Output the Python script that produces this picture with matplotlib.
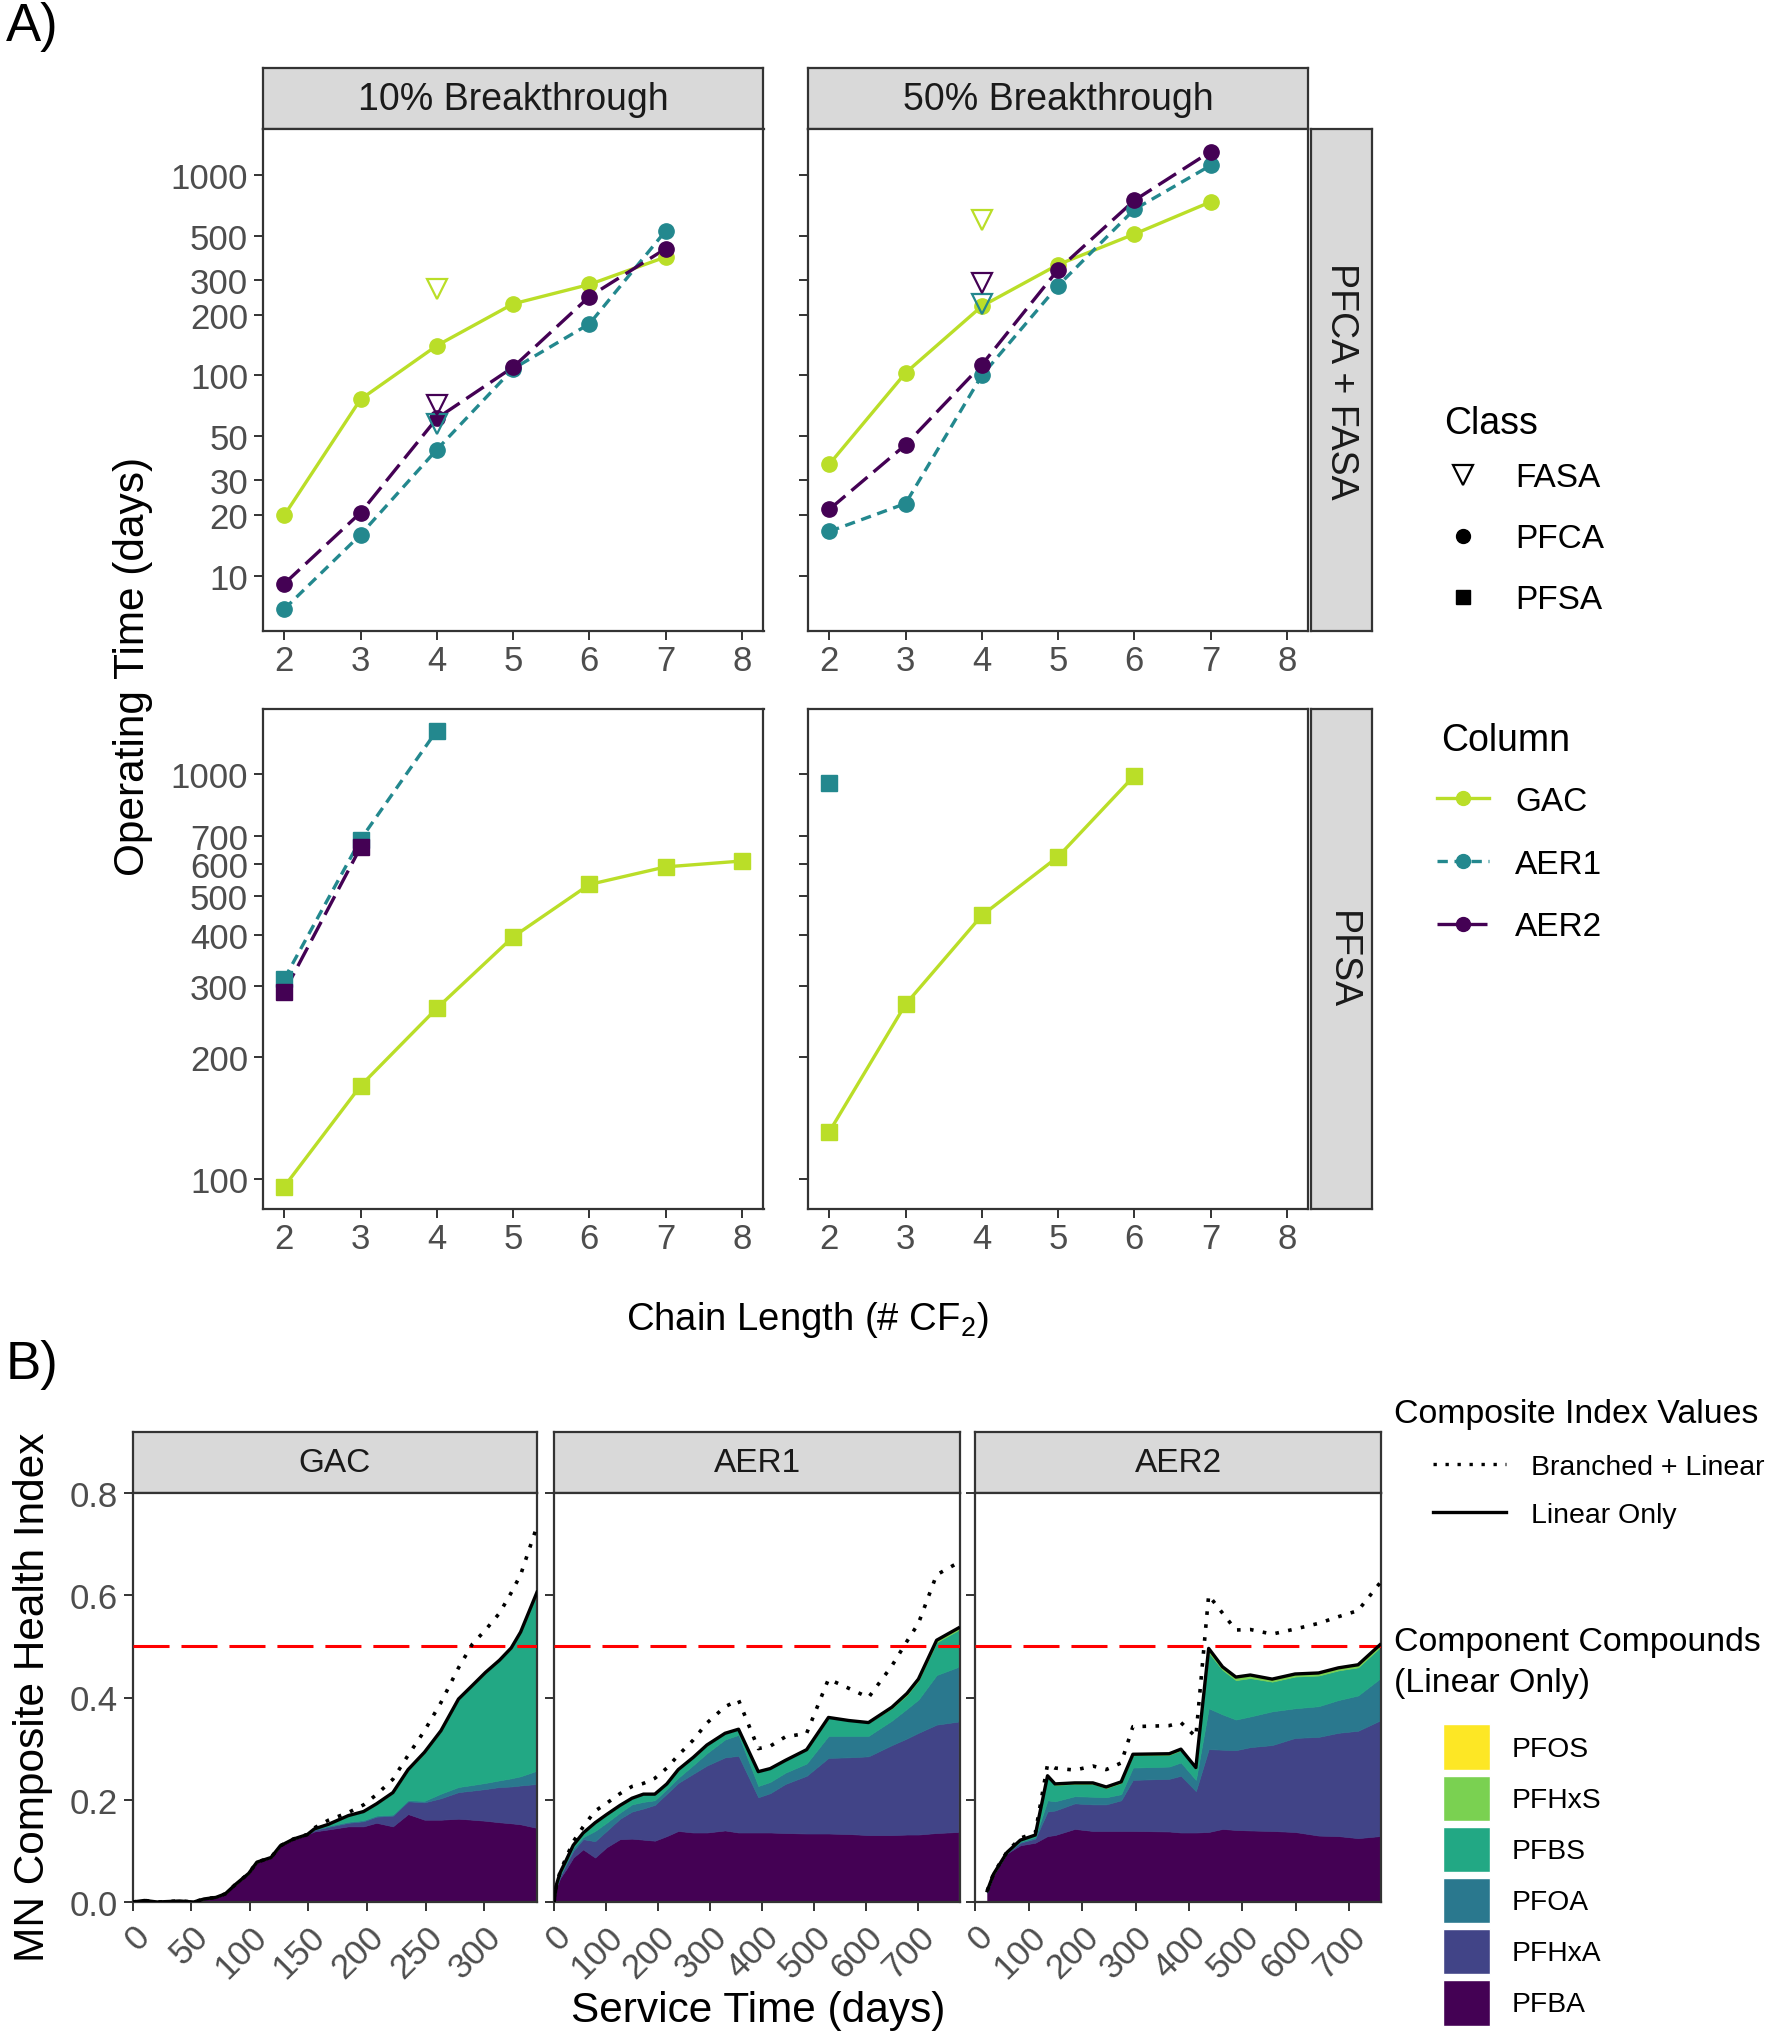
import matplotlib
matplotlib.use("Agg")
import matplotlib.pyplot as plt
from matplotlib.lines import Line2D
from matplotlib.patches import Patch
from matplotlib.ticker import FixedLocator, NullLocator

plt.rcParams["font.family"] = ["Liberation Sans", "DejaVu Sans"]
plt.rcParams["mathtext.fontset"] = "custom"
plt.rcParams["mathtext.rm"] = "Liberation Sans"

W, H = 1774, 2040

# ---------------- panel A data (operating time, days) ----------------
chain = [2, 3, 4, 5, 6, 7, 8]

# PFCA (circles), chain length 2..7
gac_pfca_10 = [20, 76, 141, 228, 285, 391]
aer1_pfca_10 = [6.8, 16, 42.6, 108, 181, 528]
aer2_pfca_10 = [9.1, 20.6, 61, 110, 248, 430]
gac_pfca_50 = [36, 103, 222, 358, 509, 737]
aer1_pfca_50 = [16.6, 22.9, 100, 281, 676, 1121]
aer2_pfca_50 = [21.4, 45, 113, 338, 750, 1315]

# FASA (open triangles) at chain length 4: GAC, AER1, AER2
fasa_chain = 4
fasa_10 = [269, 57, 71]
fasa_50 = [597, 227, 290]

# PFSA (squares), starting at chain length 2
gac_pfsa_10 = [96, 170, 264, 396, 533, 589, 609]
aer1_pfsa_10 = [312, 688, 1277]
aer2_pfsa_10 = [290, 658]
gac_pfsa_50 = [131, 270, 447, 624, 988]
aer1_pfsa_50 = [947]
aer2_pfsa_50 = []

top_ticks = [10, 20, 30, 50, 100, 200, 300, 500, 1000]
bot_ticks = [100, 200, 300, 400, 500, 600, 700, 1000]

# ---------------- panel B data (MN composite health index) ----------------
gac_days = [0, 10, 21, 40, 52, 61, 71, 79, 88, 99, 106, 118, 126, 137, 149,
            155, 167, 184, 197, 208, 222, 235, 249, 263, 278, 290, 301, 313, 323, 331, 345]
gac_pfba = [0, 0.003, 0, 0.002, 0, 0.006, 0.009, 0.016, 0.035, 0.056, 0.078, 0.087, 0.110, 0.123, 0.132,
            0.138, 0.142, 0.148, 0.148, 0.155, 0.148, 0.172, 0.161, 0.161, 0.163, 0.161, 0.159, 0.156, 0.154, 0.152, 0.145]
gac_pfhxa = [0] * 15 + [0.003, 0.005, 0.007, 0.010, 0.012, 0.021, 0.025, 0.034, 0.042, 0.052, 0.057, 0.062, 0.069, 0.072, 0.076, 0.086]
gac_pfoa = [0] * 15 + [0.001, 0.002, 0.002, 0.002, 0.002, 0.002, 0.002, 0.003, 0.009, 0.010, 0.011, 0.012, 0.013, 0.016, 0.018, 0.026]
gac_pfbs = [0] * 15 + [0.001, 0.003, 0.012, 0.017, 0.023, 0.043, 0.060, 0.095, 0.123, 0.172, 0.195, 0.216, 0.235, 0.255, 0.282, 0.349]
gac_pfhxs = [0] * 31
gac_pfos = [0] * 31
gac_branched = [0, 0.003, 0, 0.002, 0, 0.006, 0.009, 0.016, 0.035, 0.056, 0.078, 0.087, 0.110, 0.123, 0.132,
                0.145, 0.160, 0.175, 0.190, 0.210, 0.240, 0.287, 0.335, 0.390, 0.458, 0.505, 0.532, 0.565, 0.605, 0.640, 0.735]

aer1_days = [0, 5, 12, 24, 37, 56, 79, 101, 127, 150, 172, 194, 217, 239, 268,
             294, 329, 355, 393, 416, 445, 486, 528, 567, 605, 650, 679, 701, 736, 778]
aer1_pfba = [0, 0.030, 0.047, 0.065, 0.087, 0.103, 0.087, 0.107, 0.123, 0.124, 0.122, 0.120, 0.129, 0.139, 0.136,
             0.136, 0.140, 0.136, 0.136, 0.136, 0.135, 0.134, 0.134, 0.133, 0.131, 0.131, 0.132, 0.132, 0.135, 0.137]
aer1_pfhxa = [0, 0.002, 0.004, 0.010, 0.013, 0.020, 0.032, 0.032, 0.040, 0.053, 0.061, 0.070, 0.083, 0.094, 0.115,
              0.131, 0.143, 0.150, 0.069, 0.077, 0.096, 0.113, 0.148, 0.150, 0.154, 0.176, 0.188, 0.199, 0.212, 0.216]
aer1_pfoa = [0, 0.001, 0.002, 0.003, 0.006, 0.004, 0.020, 0.016, 0.012, 0.014, 0.013, 0.009, 0.009, 0.010, 0.017,
             0.024, 0.035, 0.041, 0.022, 0.022, 0.022, 0.024, 0.043, 0.042, 0.040, 0.048, 0.058, 0.065, 0.097, 0.107]
aer1_pfbs = [0, 0.002, 0.005, 0.005, 0.005, 0.008, 0.016, 0.016, 0.014, 0.012, 0.015, 0.012, 0.010, 0.016, 0.015,
             0.016, 0.012, 0.011, 0.028, 0.026, 0.024, 0.027, 0.036, 0.030, 0.026, 0.024, 0.027, 0.037, 0.064, 0.072]
aer1_pfhxs = [0] * 25 + [0.002, 0.003, 0.003, 0.004, 0.004]
aer1_pfos = [0] * 30
aer1_branched = [0, 0.035, 0.060, 0.088, 0.118, 0.147, 0.178, 0.193, 0.212, 0.226, 0.232, 0.242, 0.262, 0.287, 0.317,
                 0.350, 0.382, 0.395, 0.300, 0.305, 0.323, 0.330, 0.436, 0.418, 0.400, 0.462, 0.510, 0.545, 0.640, 0.664]

aer2_days = [22, 34, 59, 84, 112, 135, 149, 186, 220, 245, 273, 295, 363, 385, 413,
             437, 463, 488, 515, 556, 599, 643, 680, 717, 758]
aer2_pfba = [0.018, 0.053, 0.095, 0.111, 0.116, 0.129, 0.131, 0.143, 0.139, 0.139, 0.139, 0.139, 0.138, 0.136, 0.136,
             0.137, 0.143, 0.141, 0.140, 0.139, 0.137, 0.130, 0.129, 0.125, 0.129]
aer2_pfhxa = [0.002, 0.001, 0.001, 0.005, 0.008, 0.048, 0.048, 0.050, 0.052, 0.052, 0.060, 0.100, 0.103, 0.111, 0.081,
              0.162, 0.155, 0.156, 0.163, 0.168, 0.184, 0.193, 0.202, 0.210, 0.226]
aer2_pfoa = [0.001, 0, 0, 0.002, 0.003, 0.022, 0.018, 0.014, 0.015, 0.014, 0.012, 0.024, 0.024, 0.026, 0.022,
             0.080, 0.069, 0.060, 0.060, 0.066, 0.058, 0.060, 0.064, 0.069, 0.082]
aer2_pfbs = [0.001, 0.001, 0.001, 0.003, 0.004, 0.046, 0.032, 0.024, 0.025, 0.018, 0.022, 0.024, 0.023, 0.024, 0.022,
             0.109, 0.087, 0.077, 0.075, 0.058, 0.062, 0.060, 0.058, 0.055, 0.061]
aer2_pfhxs = [0, 0, 0, 0, 0, 0.002, 0.002, 0.002, 0.002, 0.002, 0.002, 0.002, 0.002, 0.002, 0.002,
              0.008, 0.006, 0.006, 0.006, 0.005, 0.005, 0.005, 0.005, 0.005, 0.005]
aer2_pfos = [0] * 25
aer2_branched = [0.022, 0.056, 0.098, 0.125, 0.135, 0.269, 0.262, 0.258, 0.266, 0.259, 0.272, 0.343, 0.345, 0.351, 0.323,
                 0.600, 0.565, 0.532, 0.533, 0.524, 0.534, 0.545, 0.558, 0.570, 0.624]

# ---------------- styles ----------------
GREY = "#333333"
TICKTXT = "#4D4D4D"
col_names = ["GAC", "AER1", "AER2"]
col_colors = ["#BADE28", "#23888E", "#440154"]
col_ls = ["-", (0, (3.1, 2.0)), (0, (6.3, 2.4))]
cmp_names = ["PFBA", "PFHxA", "PFOA", "PFBS", "PFHxS", "PFOS"]
cmp_colors = ["#440154", "#414487", "#2A788E", "#22A884", "#7AD151", "#FDE725"]

fig = plt.figure(figsize=(W / 100, H / 100), dpi=100)


def px_axes(l, t, r, b):
    return fig.add_axes([l / W, 1 - b / H, (r - l) / W, (b - t) / H])


def frame(ax, size):
    for s in ax.spines.values():
        s.set_color(GREY)
        s.set_linewidth(1.6)
    ax.tick_params(direction="out", length=6.5, width=1.4, color=GREY,
                   labelcolor=TICKTXT, labelsize=size, pad=4)


def strip(l, t, r, b, label, size, rotation=0):
    ax = px_axes(l, t, r, b)
    ax.set_facecolor("#D9D9D9")
    ax.set_xticks([])
    ax.set_yticks([])
    for s in ax.spines.values():
        s.set_color(GREY)
        s.set_linewidth(1.6)
    ax.text(0.5, 0.5, label, transform=ax.transAxes, ha="center", va="center",
            rotation=rotation, fontsize=size, color="#1A1A1A")
    return ax


# ---------------- panel A ----------------
xcols = [(262.7, 763.5), (807.7, 1308.4)]
rows = [(130, 632), (710, 1209.6)]
pfca_sets = [[gac_pfca_10, aer1_pfca_10, aer2_pfca_10], [gac_pfca_50, aer1_pfca_50, aer2_pfca_50]]
fasa_sets = [fasa_10, fasa_50]
pfsa_sets = [[gac_pfsa_10, aer1_pfsa_10, aer2_pfsa_10], [gac_pfsa_50, aer1_pfsa_50, aer2_pfsa_50]]

for ci, (l, r) in enumerate(xcols):
    strip(l, 69, r, 130, ["10% Breakthrough", "50% Breakthrough"][ci], 27)
    for ri, (t, b) in enumerate(rows):
        ax = px_axes(l, t, r, b)
        frame(ax, 25)
        ax.tick_params(axis="x", pad=3)
        ax.set_yscale("log")
        if ri == 0:
            series = pfca_sets[ci]
            mk = "o"
            ax.set_ylim(5.28, 1706)
            ticks = top_ticks
        else:
            series = pfsa_sets[ci]
            mk = "s"
            ax.set_ylim(84.7, 1443)
            ticks = bot_ticks
        for k, vals in enumerate(series):
            xs = chain[:len(vals)]
            ax.plot(xs, vals, color=col_colors[k], lw=2.4, ls=col_ls[k], zorder=2)
        for k, vals in enumerate(series):
            xs = chain[:len(vals)]
            ax.plot(xs, vals, ls="none", marker=mk, ms=11, color=col_colors[k], zorder=3)
        if ri == 0:
            for k, v in enumerate(fasa_sets[ci]):
                ax.plot([fasa_chain], [v], ls="none", marker="v", ms=15, mfc="none",
                        mec=col_colors[k], mew=1.6, zorder=3)
        ax.set_xlim(1.717, 8.283)
        ax.xaxis.set_major_locator(FixedLocator(chain))
        ax.yaxis.set_major_locator(FixedLocator(ticks))
        ax.yaxis.set_minor_locator(NullLocator())
        if ci == 0:
            ax.set_yticklabels([str(v) for v in ticks])
        else:
            ax.set_yticklabels([])
        ax.set_xticklabels([str(v) for v in chain])

strip(1311, 130, 1372, 632, "PFCA + FASA", 27, rotation=-90)
strip(1311, 710, 1372, 1209.6, "PFSA", 27, rotation=-90)

fig.text(6 / W, 1 - 2 / H, "A)", fontsize=38, ha="left", va="top")
fig.text(133 / W, 1 - 666 / H, "Operating Time (days)", fontsize=30.5, rotation=90,
         ha="center", va="center")
fig.text(807 / W, 1 - 1320 / H, "Chain Length (# CF$_2$)", fontsize=27.5,
         ha="center", va="center")

# legends for panel A
fig.text(1444 / W, 1 - 424 / H, "Class", fontsize=27, ha="left", va="center")
class_handles = [
    Line2D([], [], ls="none", marker="v", mfc="none", mec="black", ms=14, mew=1.6),
    Line2D([], [], ls="none", marker="o", color="black", ms=10),
    Line2D([], [], ls="none", marker="s", color="black", ms=9.5),
]
fig.legend(class_handles, ["FASA", "PFCA", "PFSA"], loc="center left",
           bbox_to_anchor=(1444 / W, 1 - 540 / H), frameon=False, fontsize=24,
           handlelength=1.15, handletextpad=1.0, labelspacing=0.9,
           borderpad=0, borderaxespad=0)

fig.text(1441 / W, 1 - 741 / H, "Column", fontsize=27, ha="left", va="center")
col_handles = [Line2D([], [], color=c, lw=2.4, ls=s, marker="o", ms=10)
               for c, s in zip(col_colors, col_ls)]
fig.legend(col_handles, col_names, loc="center left",
           bbox_to_anchor=(1437 / W, 1 - 865 / H), frameon=False, fontsize=24,
           handlelength=1.56, handletextpad=0.78, labelspacing=0.95,
           borderpad=0, borderaxespad=0)

# ---------------- panel B ----------------
b_cols = [(132.7, 537), (554, 960), (975.5, 1381)]
b_days = [gac_days, aer1_days, aer2_days]
b_stack = [
    [gac_pfba, gac_pfhxa, gac_pfoa, gac_pfbs, gac_pfhxs, gac_pfos],
    [aer1_pfba, aer1_pfhxa, aer1_pfoa, aer1_pfbs, aer1_pfhxs, aer1_pfos],
    [aer2_pfba, aer2_pfhxa, aer2_pfoa, aer2_pfbs, aer2_pfhxs, aer2_pfos],
]
b_branched = [gac_branched, aer1_branched, aer2_branched]
b_xmax = [345, 781, 760]
b_xticks = [[0, 50, 100, 150, 200, 250, 300], [0, 100, 200, 300, 400, 500, 600, 700],
            [0, 100, 200, 300, 400, 500, 600, 700]]
b_yticks = [0.0, 0.2, 0.4, 0.6, 0.8]

for i, (l, r) in enumerate(b_cols):
    strip(l, 1433, r, 1494, col_names[i], 24)
    ax = px_axes(l, 1494, r, 1903)
    frame(ax, 25)
    ax.tick_params(axis="x", pad=6)
    polys = ax.stackplot(b_days[i], *b_stack[i], colors=cmp_colors, zorder=1)
    for p, c in zip(polys, cmp_colors):
        p.set_edgecolor(c)
        p.set_linewidth(0.5)
    linear_only = [sum(v) for v in zip(*b_stack[i])]
    ax.axhline(0.5, color="#FF0000", lw=2.2, ls=(0, (11.8, 3.9)), zorder=3)
    ax.plot(b_days[i], b_branched[i], color="black", lw=2.6, ls=(0, (1, 2.6)), zorder=4)
    ax.plot(b_days[i], linear_only, color="black", lw=2.4, zorder=4)
    ax.set_xlim(0, b_xmax[i])
    ax.set_ylim(0, 0.8)
    ax.set_xticks(b_xticks[i])
    ax.set_xticklabels([str(v) for v in b_xticks[i]], rotation=45, ha="right",
                       va="top", rotation_mode="anchor")
    ax.set_yticks(b_yticks)
    if i == 0:
        ax.set_yticklabels(["%.1f" % v for v in b_yticks])
    else:
        ax.set_yticklabels([])

fig.text(6 / W, 1 - 1340 / H, "B)", fontsize=38, ha="left", va="top")
fig.text(33 / W, 1 - 1697 / H, "MN Composite Health Index", fontsize=30.5, rotation=90,
         ha="center", va="center")
fig.text(758 / W, 1 - 2011 / H, "Service Time (days)", fontsize=30.5,
         ha="center", va="center")

fig.text(1394 / W, 1 - 1415 / H, "Composite Index Values", fontsize=24.4, ha="left", va="center")
idx_handles = [Line2D([], [], color="black", lw=2.4, ls=(0, (1, 2.6))),
               Line2D([], [], color="black", lw=2.4)]
fig.legend(idx_handles, ["Branched + Linear", "Linear Only"], loc="center left",
           bbox_to_anchor=(1433 / W, 1 - 1492 / H), frameon=False, fontsize=20.5,
           handlelength=2.56, handletextpad=0.88, labelspacing=0.75,
           borderpad=0, borderaxespad=0)

fig.text(1394 / W, 1 - 1663 / H, "Component Compounds\n(Linear Only)", fontsize=24.4,
         ha="left", va="center", linespacing=1.4)
cmp_handles = [Patch(facecolor=c, edgecolor="white", lw=1) for c in cmp_colors[::-1]]
fig.legend(cmp_handles, cmp_names[::-1], loc="center left",
           bbox_to_anchor=(1443 / W, 1 - 1876 / H), frameon=False, fontsize=20.3,
           handlelength=1.67, handleheight=2.13, handletextpad=0.75, labelspacing=0.18,
           borderpad=0, borderaxespad=0)

fig.savefig("out.png", dpi=100)
